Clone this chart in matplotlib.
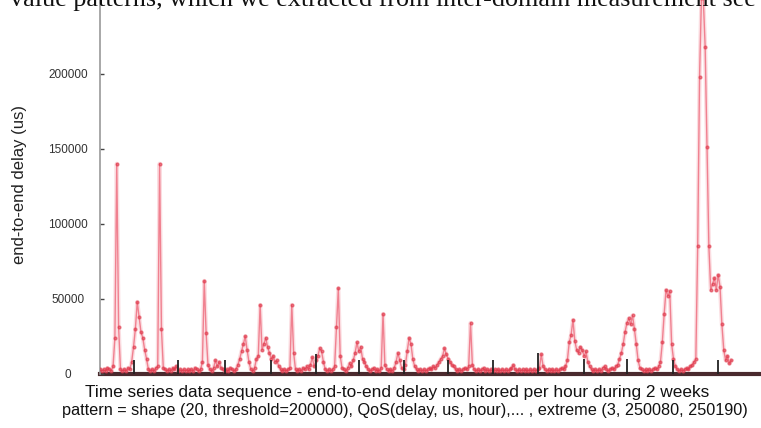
import matplotlib.pyplot as plt
import numpy as np

# hourly end-to-end delay (us), one list per day
day1 = [3000, 2000, 3000, 2000, 4000, 3000, 2000, 5000, 24000, 140000, 31000, 3000,
        2000, 3000, 2000, 4000, 3000, 8000, 18000, 30000, 48000, 38000, 28000, 24000]
day2 = [16000, 10000, 3000, 2000, 3000, 2000, 4000, 5000, 140000, 30000, 4000, 3000,
        2000, 3000, 2000, 4000, 3000, 5000, 2000, 3000, 2000, 3000, 2000, 3000]
day3 = [2000, 3000, 2000, 4000, 3000, 2000, 3000, 8000, 62000, 27000, 6000, 3000,
        2000, 4000, 9000, 5000, 8000, 4000, 3000, 2000, 3000, 2000, 4000, 3000]
day4 = [2000, 3000, 6000, 10000, 15000, 20000, 25000, 16000, 8000, 3000, 2000, 4000,
        10000, 12000, 46000, 16000, 20000, 24000, 18000, 14000, 10000, 12000, 8000, 9000]
day5 = [5000, 3000, 2000, 3000, 2000, 3000, 4000, 46000, 14000, 3000, 2000, 3000,
        2000, 4000, 3000, 5000, 3000, 6000, 11000, 5000, 9000, 12000, 17000, 15000]
day6 = [8000, 3000, 2000, 3000, 2000, 3000, 5000, 31000, 57000, 12000, 4000, 3000,
        2000, 4000, 7000, 5000, 9000, 14000, 21000, 15000, 18000, 10000, 8000, 5000]
day7 = [3000, 2000, 3000, 4000, 2000, 3000, 2000, 4000, 40000, 6000, 3000, 2000,
        3000, 2000, 4000, 8000, 14000, 9000, 4000, 3000, 6000, 15000, 24000, 20000]
day8 = [10000, 5000, 3000, 2000, 3000, 2000, 3000, 2000, 3000, 4000, 3000, 5000,
        4000, 6000, 8000, 10000, 12000, 17000, 13000, 10000, 8000, 6000, 5000, 3000]
day9 = [2000, 3000, 2000, 3000, 4000, 3000, 5000, 34000, 6000, 3000, 2000, 3000,
        2000, 3000, 4000, 2000, 3000, 2000, 3000, 2000, 3000, 2000, 3000, 2000]
day10 = [3000, 2000, 3000, 2000, 3000, 4000, 6000, 3000, 2000, 3000, 2000, 3000,
         2000, 3000, 2000, 3000, 2000, 3000, 2000, 3000, 4000, 13000, 5000, 3000]
day11 = [2000, 3000, 2000, 3000, 2000, 3000, 2000, 3000, 4000, 3000, 5000, 9000,
         21000, 26000, 36000, 22000, 16000, 14000, 18000, 16000, 12000, 15000, 8000, 5000]
day12 = [3000, 2000, 3000, 2000, 3000, 2000, 4000, 5000, 3000, 2000, 3000, 4000,
         3000, 5000, 6000, 10000, 14000, 20000, 28000, 34000, 37000, 33000, 39000, 30000]
day13 = [20000, 9000, 4000, 3000, 2000, 3000, 2000, 3000, 2000, 3000, 4000, 3000,
         5000, 8000, 21000, 40000, 56000, 52000, 55000, 20000, 10000, 5000, 3000, 2000]
day14 = [3000, 2000, 3000, 4000, 3000, 5000, 6000, 8000, 10000, 85000, 198000, 250080,
         250190, 218000, 151000, 85000, 56000, 60000, 64000, 56000, 66000, 58000, 33000, 16000]
tail = [9000, 12000, 7000, 9000]

delay = day1 + day2 + day3 + day4 + day5 + day6 + day7 + day8 + day9 + day10 + day11 + day12 + day13 + day14 + tail
hours = np.arange(len(delay))

# black day markers
mark_hours = [18, 42, 67, 92, 116, 139, 163, 187, 211, 235, 260, 283, 308, 332]
mark_heights = [9000, 9500, 9500, 9000, 13000, 9500, 9500, 9500, 9500, 14000, 10000, 10000, 9500, 9500]

yticks = [0, 50000, 100000, 150000, 200000]

plt.rcParams['font.family'] = ['Liberation Sans', 'DejaVu Sans']

fig = plt.figure(figsize=(7.61, 4.28), dpi=100)
ax = fig.add_axes([100 / 761, 1 - 374 / 428, 661 / 761, 374 / 428])

# soft halo + line + point markers (scanned look)
ax.plot(hours, delay, color='#f4a0aa', lw=3.0, alpha=0.35, zorder=2)
ax.plot(hours, delay, color='#ee6a7c', lw=1.0, alpha=0.8, zorder=2)
ax.plot(hours, delay, ls='none', marker='o', ms=2.0, mfc='#e03a4c', mec='#e03a4c', alpha=0.6, zorder=3)
ax.vlines(mark_hours, 0, mark_heights, color='#222222', lw=1.3, zorder=4)

ax.set_xlim(0, 355)
ax.set_ylim(0, 249000)
ax.set_xticks([])
ax.set_yticks(yticks)
ax.set_yticklabels([str(t) for t in yticks])
ax.tick_params(axis='y', direction='in', length=3, width=1, color='#444444',
               labelsize=8.5, labelcolor='#333333', pad=23)
for lab in ax.get_yticklabels():
    lab.set_horizontalalignment('center')

ax.spines['top'].set_visible(False)
ax.spines['right'].set_visible(False)
ax.spines['left'].set_color('#999999')
ax.spines['left'].set_linewidth(1.2)
ax.spines['bottom'].set_color('#4a2a2e')
ax.spines['bottom'].set_linewidth(3)
ax.spines['bottom'].set_zorder(1)

fig.text(20 / 761, 1 - 185 / 428, 'end-to-end delay (us)', rotation=90,
         ha='center', va='center', fontsize=12, color='#222222')

fig.text(85 / 761, 1 - 397 / 428,
         'Time series data sequence - end-to-end delay monitored per hour during 2 weeks',
         ha='left', va='baseline', fontsize=12.4, color='#111111')
fig.text(62 / 761, 1 - 415 / 428,
         'pattern = shape (20, threshold=200000), QoS(delay, us, hour),... , extreme (3, 250080, 250190)',
         ha='left', va='baseline', fontsize=11.7, color='#111111')

# first line of the page text, cut by the top edge as in the scan
fig.text(10 / 761, 1 - 6 / 428,
         'value patterns, which we extracted from inter-domain measurement see',
         ha='left', va='baseline', fontsize=18.8, family='Liberation Serif', color='#111111')

fig.savefig('out.png', dpi=100)
